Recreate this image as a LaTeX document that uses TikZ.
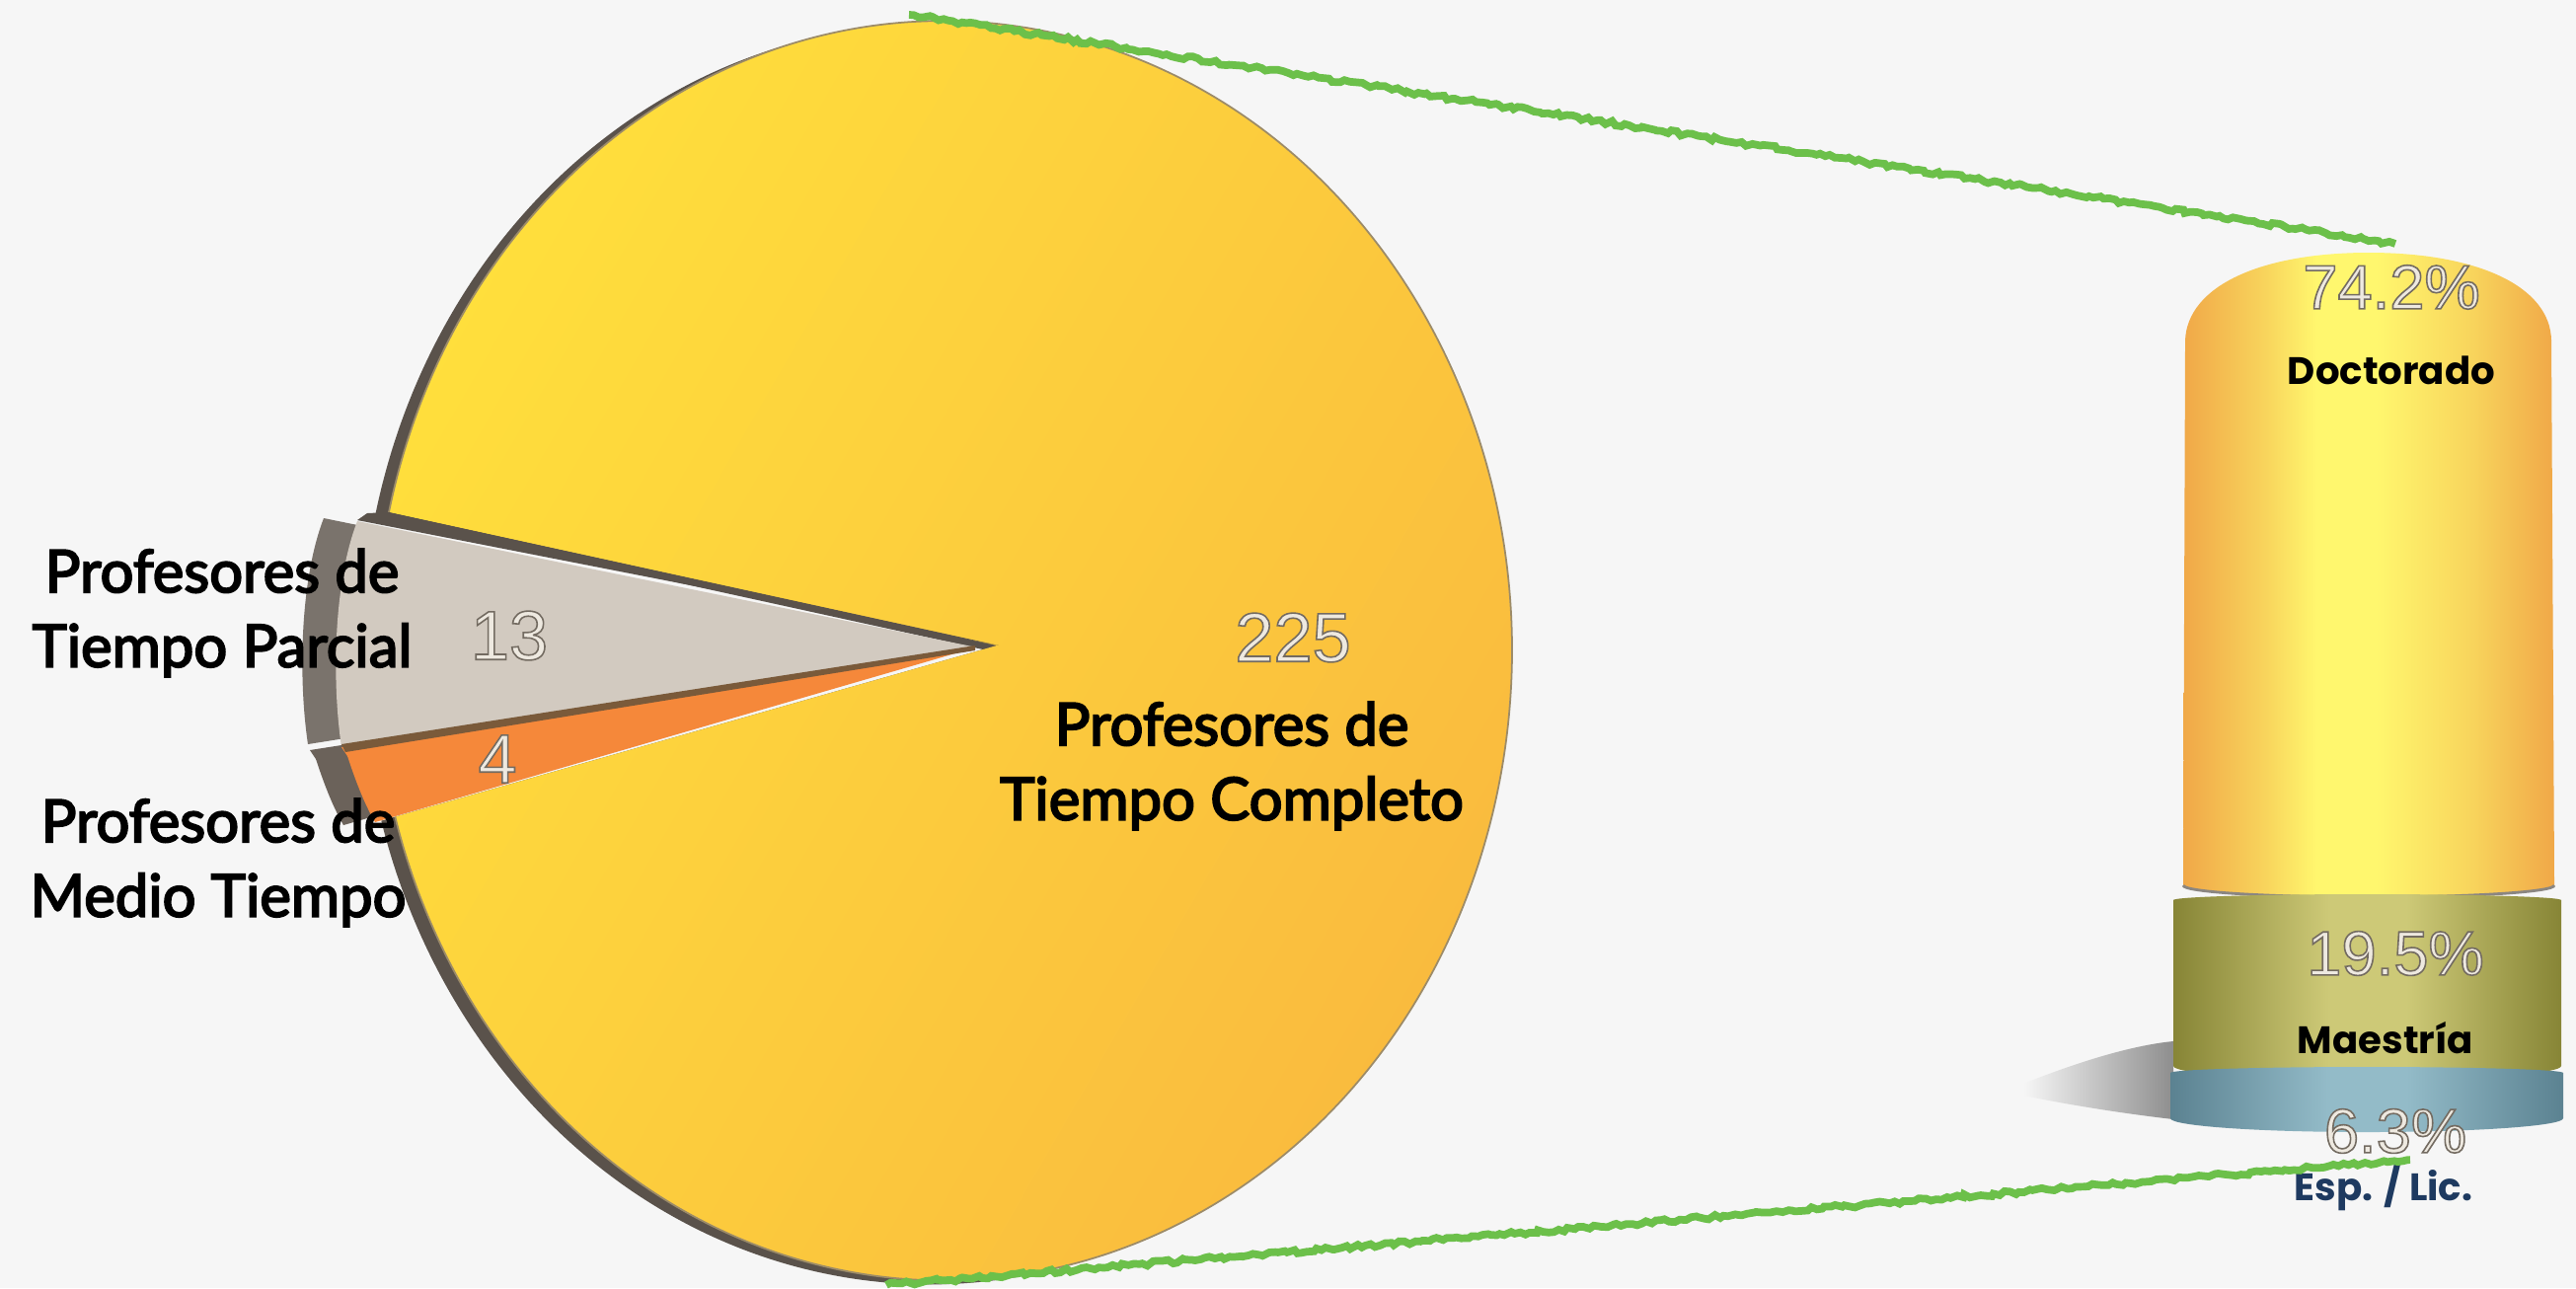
\documentclass[tikz,border=0pt]{standalone}
\usepackage{fontspec}
\usetikzlibrary{decorations.pathmorphing}
\setmainfont{Lato}
\newfontfamily\labelfont{Lato}
\newfontfamily\numfont{Liberation Sans}
\newfontfamily\catfont{Poppins}

\definecolor{bgGray}{HTML}{F6F6F6}
\definecolor{pieLight}{HTML}{FFDF3C}
\definecolor{pieMid}{HTML}{FDCB3B}
\definecolor{pieDark}{HTML}{F9B93E}
\definecolor{pieRim}{HTML}{5A524B}
\definecolor{pieOutline}{HTML}{9C8B68}
\definecolor{partFace}{HTML}{D2CAC0}
\definecolor{partSide}{HTML}{7A736C}
\definecolor{halfFace}{HTML}{F5883A}
\definecolor{halfSide}{HTML}{6B625A}
\definecolor{seamBrown}{HTML}{7A5A3A}
\definecolor{linkGreen}{HTML}{6CC04A}
\definecolor{docEdge}{HTML}{F0A848}
\definecolor{docMid}{HTML}{F8D45C}
\definecolor{docHigh}{HTML}{FFF76E}
\definecolor{masEdge}{HTML}{878536}
\definecolor{masHigh}{HTML}{CDC977}
\definecolor{espEdge}{HTML}{5B8291}
\definecolor{espHigh}{HTML}{93BBC8}
\definecolor{espText}{HTML}{1E3A60}
\definecolor{numLight}{HTML}{EEE9E0}
\definecolor{shadowGray}{HTML}{8E8E8E}

\pgfdeclarehorizontalshading{docShade}{100bp}{color(0bp)=(docEdge); color(25bp)=(docEdge); color(36bp)=(docMid); color(43bp)=(docHigh); color(51bp)=(docHigh); color(64bp)=(docMid); color(75bp)=(docEdge); color(100bp)=(docEdge)}
\pgfdeclarehorizontalshading{masShade}{100bp}{color(0bp)=(masEdge); color(25bp)=(masEdge); color(45bp)=(masHigh); color(55bp)=(masHigh); color(75bp)=(masEdge); color(100bp)=(masEdge)}
\pgfdeclarehorizontalshading{espShade}{100bp}{color(0bp)=(espEdge); color(25bp)=(espEdge); color(45bp)=(espHigh); color(55bp)=(espHigh); color(75bp)=(espEdge); color(100bp)=(espEdge)}

% light digits with a thin dark outline
\newcommand\embossText[1]{\special{pdf:literal direct 2 Tr 0.45 w 0.45 0.42 0.38 RG}#1\special{pdf:literal direct 0 Tr}}
% black labels drawn a bit heavier
\newcommand\heavyText[1]{\special{pdf:literal direct 2 Tr 0.55 w 0 0 0 RG}#1\special{pdf:literal direct 0 Tr}}

\tikzset{
  bigLabel/.style={font=\labelfont\fontsize{17}{21.5}\selectfont, align=center, text=black},
  numLabel/.style={font=\numfont\fontsize{20}{24}\selectfont, text=numLight},
  pctLabel/.style={font=\numfont\fontsize{18}{22}\selectfont, text=numLight},
  catLabel/.style={font=\catfont\bfseries\fontsize{11}{13}\selectfont, text=black},
  linkLine/.style={draw=linkGreen, line width=2.2pt, decorate,
    decoration={random steps, segment length=1.4pt, amplitude=0.6pt}},
}

\begin{document}
\begin{tikzpicture}[x=0.01cm, y=-0.01cm]
            \pgfmathsetseed{7}
            % Background
            \fill[bgGray] (0,0) rectangle (2610,1305);%
            \useasboundingbox (0,0) rectangle (2610,1305);%

            % Drawing the rim of the full-time slice
            \fill[pieRim, shift={(-14,4)}] (1010,654) -- (394,519) arc[start angle=192.7, end angle=524.7, x radius=576, y radius=638] -- cycle;%

            % Drawing the full-time slice
            \path[left color=pieLight, middle color=pieMid, right color=pieDark, shading angle=60] (1010,654) -- (394,519) arc[start angle=192.7, end angle=524.7, x radius=576, y radius=638] -- cycle;%
            \draw[pieOutline, line width=0.5pt] (394,519) arc[start angle=192.7, end angle=524.7, x radius=576, y radius=638];%

            % Drawing the cut face above the part-time slice
            \fill[pieRim] (394,519) -- (1012,654) -- (362,527) -- (372,520) -- cycle;%

            % Drawing the part-time slice
            \fill[partSide, shift={(-34,-3)}] (985,655) -- (362,528) .. controls (338,590) and (336,690) .. (346,757) -- cycle;%
            \fill[partFace] (985,655) -- (362,528) .. controls (338,590) and (336,690) .. (346,757) -- cycle;%

            % Drawing the half-time slice
            \fill[halfSide, shift={(-32,3)}] (985,657) -- (346,757) -- (352,766) .. controls (360,790) and (368,812) .. (380,833) -- cycle;%
            \fill[halfFace] (985,657) -- (346,757) -- (352,766) .. controls (360,790) and (368,812) .. (380,833) -- cycle;%
            \fill[seamBrown] (346,754) -- (988,654) -- (988,659) -- (350,762) -- cycle;%

            % Marking the slice values
            \node[numLabel] (numParcial) at (516,644) {\embossText{13}};%
            \node[numLabel] (numMedio) at (504,769) {\embossText{4}};%
            \node[numLabel] (numCompleto) at (1310,646) {\embossText{225}};%

            % Marking the slice names
            \node[bigLabel] (lblCompleto) at (1248,776) {\heavyText{Profesores de\\Tiempo Completo}};%
            \node[bigLabel] (lblParcial) at (225,621) {\heavyText{Profesores de\\Tiempo Parcial}};%
            \node[bigLabel] (lblMedio) at (221,874) {\heavyText{Profesores de\\Medio Tiempo}};%

            % Drawing the shadow under the column
            \path[left color=bgGray, right color=shadowGray] (2050,1098) .. controls (2120,1070) and (2170,1058) .. (2202,1055) -- (2202,1134) .. controls (2150,1128) and (2100,1120) .. (2050,1110) -- cycle;%

            % Drawing the column pieces
            \path[shading=docShade] (2212,897) -- (2214,345) .. controls (2216,290) and (2290,256) .. (2400,256) .. controls (2510,256) and (2584,290) .. (2585,345) -- (2588,897) arc[start angle=0, end angle=180, x radius=188, y radius=12] -- cycle;%
            \draw[pieRim!70, line width=0.8pt] (2588,897) arc[start angle=0, end angle=180, x radius=188, y radius=12];%
            \path[shading=masShade] (2202,912) -- (2202,1080) arc[start angle=180, end angle=0, x radius=196.5, y radius=14] -- (2595,912) arc[start angle=360, end angle=180, x radius=196.5, y radius=6] -- cycle;%
            \path[shading=espShade] (2199,1087) -- (2199,1133) arc[start angle=180, end angle=0, x radius=199, y radius=14] -- (2597,1087) arc[start angle=360, end angle=180, x radius=199, y radius=6] -- cycle;%

            % Marking the column values and names
            \node[pctLabel] (pctDoc) at (2423,291) {\embossText{74.2\%}};%
            \node[catLabel] (catDoc) at (2423,375) {Doctorado};%
            \node[pctLabel] (pctMas) at (2427,966) {\embossText{19.5\%}};%
            \node[catLabel] (catMas) at (2417,1052) {Maestría};%
            \node[pctLabel] (pctEsp) at (2427,1146) {\embossText{6.3\%}};%
            \node[catLabel, text=espText] (catEsp) at (2415,1203) {Esp. / Lic.};%

            % Drawing the links from the pie to the column
            \coordinate (pieTop) at (921,15);%
            \coordinate (pieBottom) at (898,1302);%
            \coordinate (colTop) at (2427,247);%
            \coordinate (colBottom) at (2442,1175);%
            \draw[linkLine] (pieTop) -- (colTop);%
            \draw[linkLine] (pieBottom) -- (colBottom);%
\end{tikzpicture}
\end{document}
